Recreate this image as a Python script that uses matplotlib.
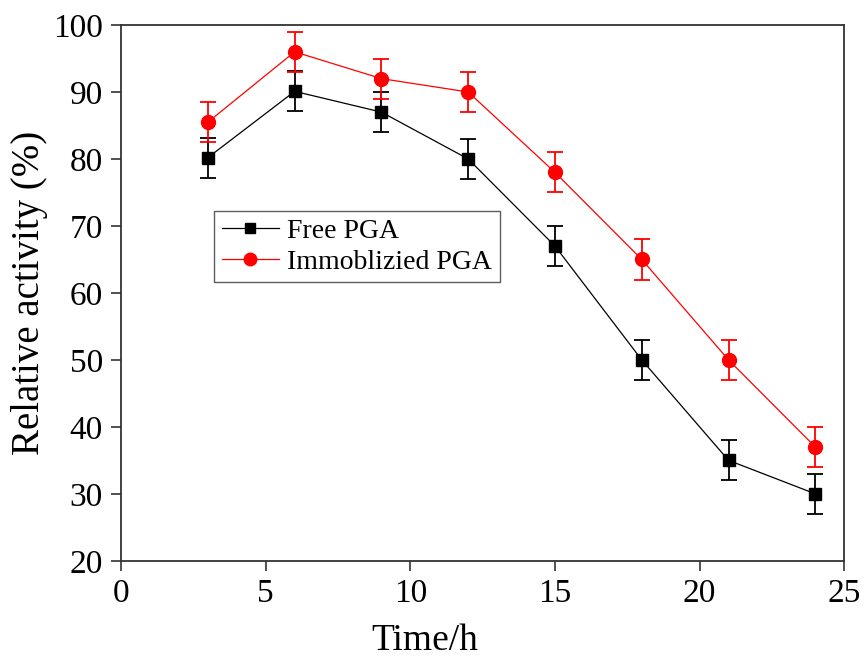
import matplotlib
matplotlib.use("Agg")
import matplotlib.pyplot as plt

time_h = [3, 6, 9, 12, 15, 18, 21, 24]
free_pga = [80.2, 90.1, 87.0, 80.0, 67.0, 50.0, 35.0, 30.0]
free_err = [3, 3, 3, 3, 3, 3, 3, 3]
immob_pga = [85.5, 96.0, 92.0, 90.0, 78.0, 65.0, 50.0, 37.0]
immob_err = [3, 3, 3, 3, 3, 3, 3, 3]

plt.rcParams['font.family'] = ['Liberation Serif', 'DejaVu Serif']

fig = plt.figure(figsize=(8.65, 6.59), dpi=100)
ax = fig.add_axes([0.140, 0.149, 0.836, 0.813])

ax.errorbar(time_h, free_pga, yerr=free_err, color='black', marker='s', markersize=8,
            linewidth=0.9, elinewidth=1.3, capsize=6, capthick=1.3, label='Free PGA', zorder=3)
ax.errorbar(time_h, immob_pga, yerr=immob_err, color='red', marker='o', markersize=10,
            linewidth=0.9, elinewidth=1.3, capsize=6, capthick=1.3, label='Immoblizied PGA', zorder=3)

ax.set_xlim(0, 25)
ax.set_ylim(20, 100)
ax.set_xticks([0, 5, 10, 15, 20, 25])
ax.set_yticks([20, 30, 40, 50, 60, 70, 80, 90, 100])
ax.tick_params(direction='out', length=7, width=1.2, labelsize=24, pad=6, colors='#333333', labelcolor='black')
for s in ax.spines.values():
    s.set_linewidth(1.3)
    s.set_color('#333333')
ax.set_xlabel('Time/h', fontsize=27)
ax.xaxis.set_label_coords(0.42, -0.166)
ax.xaxis.label.set_va('baseline')
ax.set_ylabel('Relative activity (%)', fontsize=28, labelpad=4)

handles, labels = ax.get_legend_handles_labels()
handles = [h[0] for h in handles]
leg = ax.legend(handles, labels, loc='upper left', bbox_to_anchor=(0.1286, 0.653), borderaxespad=0,
                fontsize=20, frameon=True, fancybox=False, edgecolor='#333333', handlelength=2.05,
                borderpad=0.28, labelspacing=0.18, handletextpad=0.3, markerscale=0.9)
leg.get_frame().set_linewidth(1.0)

fig.savefig('out.png', dpi=100)
